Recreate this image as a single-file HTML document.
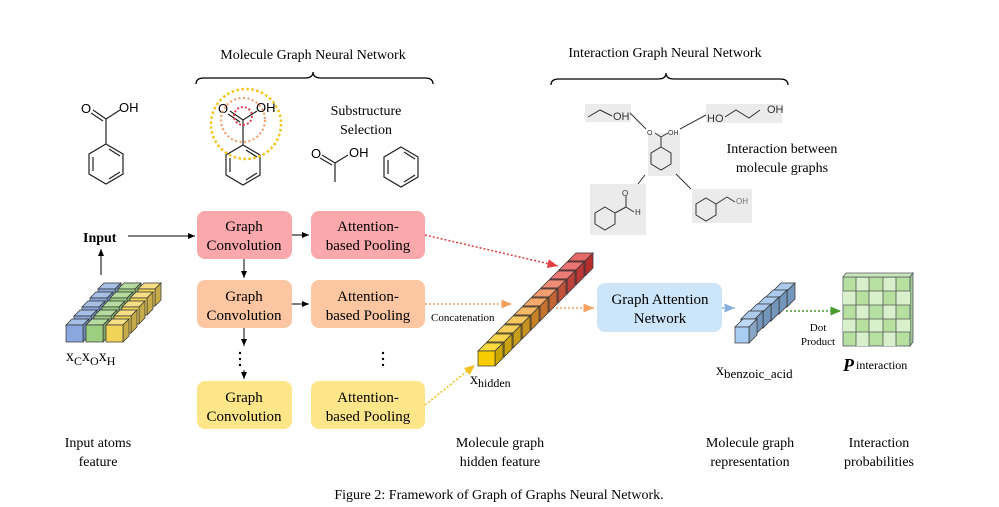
<!DOCTYPE html>
<html><head><meta charset="utf-8"><style>
body{margin:0;background:#fff}
svg{display:block;font-family:"Liberation Serif",serif}
.s{font-family:"Liberation Sans",sans-serif}
</style></head><body>
<svg width="999" height="507" viewBox="0 0 999 507" xmlns="http://www.w3.org/2000/svg">
<defs>
<marker id="a" markerWidth="8" markerHeight="8" refX="7" refY="4" orient="auto"><path d="M0,1 L7,4 L0,7z" fill="#000"/></marker>
<marker id="ar" markerWidth="8" markerHeight="8" refX="7" refY="4" orient="auto"><path d="M0,1 L7,4 L0,7z" fill="#e04040"/></marker>
<marker id="ao" markerWidth="8" markerHeight="8" refX="7" refY="4" orient="auto"><path d="M0,1 L7,4 L0,7z" fill="#f5a060"/></marker>
<marker id="ay" markerWidth="8" markerHeight="8" refX="7" refY="4" orient="auto"><path d="M0,1 L7,4 L0,7z" fill="#f0c020"/></marker>
<marker id="ab" markerWidth="8" markerHeight="8" refX="7" refY="4" orient="auto"><path d="M0,1 L7,4 L0,7z" fill="#8ab0e0"/></marker>
<marker id="ag" markerWidth="8" markerHeight="8" refX="7" refY="4" orient="auto"><path d="M0,1 L7,4 L0,7z" fill="#4a9a30"/></marker>
<g id="benz" fill="none" stroke="#222" stroke-width="1.2">
<polygon points="0,-20 17,-10 17,10 0,20 -17,10 -17,-10"/>
<line x1="-13" y1="-7" x2="-13" y2="7"/><line x1="3" y1="-15" x2="14" y2="-8"/><line x1="3" y1="15" x2="14" y2="8"/>
</g>
<g id="cube" stroke="#333" stroke-width="0.7">
<polygon points="0,0 8,-8 25,-8 17,0" fill="currentColor"/>
<polygon points="0,0 8,-8 25,-8 17,0" fill="#fff" opacity="0.25"/>
<polygon points="17,0 25,-8 25,7 17,15" fill="currentColor"/>
<polygon points="17,0 25,-8 25,7 17,15" fill="#000" opacity="0.18"/>
<rect x="0" y="0" width="17" height="15" fill="currentColor"/>
</g>
<g id="sc" stroke="#333" stroke-width="0.7">
<polygon points="0,0 8,-8 22,-8 14,0" fill="currentColor"/>
<polygon points="0,0 8,-8 22,-8 14,0" fill="#fff" opacity="0.25"/>
<polygon points="14,0 22,-8 22,8 14,16" fill="currentColor"/>
<polygon points="14,0 22,-8 22,8 14,16" fill="#000" opacity="0.18"/>
<rect x="0" y="0" width="14" height="16" fill="currentColor"/>
</g>
<g id="ic" stroke="#333" stroke-width="0.7">
<polygon points="0,0 6,-6 23,-6 17,0" fill="currentColor"/>
<polygon points="0,0 6,-6 23,-6 17,0" fill="#fff" opacity="0.25"/>
<polygon points="17,0 23,-6 23,11 17,17" fill="currentColor"/>
<polygon points="17,0 23,-6 23,11 17,17" fill="#000" opacity="0.18"/>
<rect x="0" y="0" width="17" height="17" fill="currentColor"/>
</g>
</defs>

<text x="313" y="59" font-size="14" text-anchor="middle">Molecule Graph Neural Network</text>
<path d="M196,84 Q196,78 204,78 L305,78 Q313,78 313,72 Q313,78 321,78 L425,78 Q433,78 433,84" fill="none" stroke="#000" stroke-width="1.3"/>
<text x="665" y="57" font-size="14" text-anchor="middle">Interaction Graph Neural Network</text>
<path d="M551,85 Q551,79 559,79 L658,79 Q666,79 666,73 Q666,79 674,79 L780,79 Q788,79 788,85" fill="none" stroke="#000" stroke-width="1.3"/>

<use href="#benz" x="106" y="164"/>
<g stroke="#222" stroke-width="1.2" fill="none"><line x1="106" y1="144" x2="106" y2="119"/><line x1="106" y1="119" x2="93" y2="110"/><line x1="103" y1="121" x2="91" y2="113"/><line x1="106" y1="119" x2="120" y2="110"/></g>
<text class="s" x="81" y="113" font-size="13">O</text><text class="s" x="119" y="112" font-size="13">OH</text>

<use href="#benz" x="243" y="165"/>
<g stroke="#222" stroke-width="1.2" fill="none"><line x1="243" y1="145" x2="243" y2="120"/><line x1="243" y1="120" x2="230" y2="111"/><line x1="240" y1="122" x2="228" y2="114"/><line x1="243" y1="120" x2="257" y2="111"/></g>
<text class="s" x="218" y="113" font-size="13">O</text><text class="s" x="256" y="112" font-size="13">OH</text>
<circle cx="243" cy="116" r="9" fill="none" stroke="#e04050" stroke-width="2" stroke-dasharray="2,2"/>
<circle cx="243" cy="120" r="22" fill="none" stroke="#f5a070" stroke-width="2.2" stroke-dasharray="2,2.5"/>
<circle cx="246" cy="124" r="35" fill="none" stroke="#f5c518" stroke-width="2.5" stroke-dasharray="2.5,2.5"/>
<text x="366" y="115" font-size="14" text-anchor="middle">Substructure</text>
<text x="366" y="134" font-size="14" text-anchor="middle">Selection</text>
<g stroke="#222" stroke-width="1.2" fill="none"><line x1="335" y1="182" x2="335" y2="163"/><line x1="335" y1="163" x2="322" y2="155"/><line x1="332" y1="165" x2="320" y2="158"/><line x1="335" y1="163" x2="348" y2="155"/></g>
<text class="s" x="311" y="158" font-size="13">O</text><text class="s" x="349" y="157" font-size="13">OH</text>
<use href="#benz" x="401" y="167"/>

<rect x="585" y="104" width="46" height="18" fill="#ebebeb"/>
<rect x="706" y="104" width="76" height="19" fill="#ebebeb"/>
<rect x="648" y="133" width="32" height="43" fill="#ebebeb"/>
<rect x="590" y="184" width="56" height="51" fill="#ebebeb"/>
<rect x="692" y="189" width="60" height="34" fill="#ebebeb"/>
<g stroke="#333" stroke-width="1" fill="none">
<polyline points="588,117 600,110 612,116"/>
<line x1="630" y1="113" x2="646" y2="129"/><line x1="680" y1="129" x2="706" y2="115"/>
<line x1="645" y1="175" x2="638" y2="184"/><line x1="676" y1="174" x2="691" y2="189"/>
<polyline points="725,117 736,110 749,118 760,110"/>
<line x1="661" y1="147" x2="661" y2="137"/><line x1="661" y1="137" x2="655" y2="133"/><line x1="661" y1="137" x2="668" y2="133"/>
<polygon points="661,147 671,153 671,164 661,170 651,164 651,153"/>
<polygon points="605,207 615,213 615,224 605,230 595,224 595,213"/>
<line x1="615" y1="213" x2="626" y2="207"/><line x1="626" y1="207" x2="626" y2="196"/><line x1="626" y1="207" x2="634" y2="212"/>
<polygon points="706,198 716,204 716,215 706,221 696,215 696,204"/>
<line x1="716" y1="204" x2="727" y2="197"/><line x1="727" y1="197" x2="735" y2="202"/>
</g>
<g class="s" fill="#333"><text x="613" y="120" font-size="11">OH</text><text x="707" y="122" font-size="11">HO</text><text x="767" y="113" font-size="11">OH</text>
<text x="647" y="135" font-size="7">O</text><text x="668" y="135" font-size="7">OH</text>
<text x="622" y="196" font-size="8">O</text><text x="635" y="215" font-size="8">H</text><text x="736" y="204" font-size="8" fill="#777">OH</text></g>
<text x="782" y="153" font-size="14" text-anchor="middle">Interaction between</text>
<text x="782" y="172" font-size="14" text-anchor="middle">molecule graphs</text>

<g font-size="15" text-anchor="middle">
<rect x="197" y="211" width="95" height="48" rx="8" fill="#fba8ad"/><text x="244" y="231">Graph</text><text x="244" y="250">Convolution</text>
<rect x="311" y="211" width="114" height="48" rx="8" fill="#fba8ad"/><text x="368" y="231">Attention-</text><text x="368" y="250">based Pooling</text>
<rect x="197" y="280" width="95" height="48" rx="8" fill="#fcc6a2"/><text x="244" y="301">Graph</text><text x="244" y="320">Convolution</text>
<rect x="311" y="280" width="114" height="48" rx="8" fill="#fcc6a2"/><text x="368" y="301">Attention-</text><text x="368" y="320">based Pooling</text>
<rect x="197" y="381" width="95" height="48" rx="8" fill="#fde68a"/><text x="244" y="402">Graph</text><text x="244" y="421">Convolution</text>
<rect x="311" y="381" width="114" height="48" rx="8" fill="#fde68a"/><text x="368" y="402">Attention-</text><text x="368" y="421">based Pooling</text>
<rect x="597" y="283" width="125" height="49" rx="8" fill="#cde5f8"/><text x="660" y="304">Graph Attention</text><text x="660" y="323">Network</text>
</g>
<g stroke="#000" stroke-width="1" fill="none">
<line x1="292" y1="235" x2="309" y2="235" marker-end="url(#a)"/>
<line x1="292" y1="304" x2="309" y2="304" marker-end="url(#a)"/>
<line x1="244" y1="259" x2="244" y2="278" marker-end="url(#a)"/>
<line x1="244" y1="328" x2="244" y2="346" marker-end="url(#a)"/>
<line x1="244" y1="370" x2="244" y2="379" marker-end="url(#a)"/>
<line x1="128" y1="236" x2="195" y2="236" marker-end="url(#a)"/>
<line x1="101" y1="275" x2="101" y2="249" marker-end="url(#a)"/>
</g>
<g fill="#000"><circle cx="240" cy="353" r="1.2"/><circle cx="240" cy="359" r="1.2"/><circle cx="240" cy="365" r="1.2"/>
<circle cx="383" cy="353" r="1.2"/><circle cx="383" cy="359" r="1.2"/><circle cx="383" cy="365" r="1.2"/></g>
<text x="83" y="242" font-size="14" font-weight="bold">Input</text>

<!-- input cubes: 3 rows -->
<g color="#8aa8dd"><use href="#ic" x="98" y="289"/><use href="#ic" x="90" y="298"/><use href="#ic" x="82" y="307"/><use href="#ic" x="74" y="316"/><use href="#ic" x="66" y="325"/></g>
<g color="#9ccf80"><use href="#ic" x="118" y="289"/><use href="#ic" x="110" y="298"/><use href="#ic" x="102" y="307"/><use href="#ic" x="94" y="316"/><use href="#ic" x="86" y="325"/></g>
<g color="#f2d35a"><use href="#ic" x="138" y="289"/><use href="#ic" x="130" y="298"/><use href="#ic" x="122" y="307"/><use href="#ic" x="114" y="316"/><use href="#ic" x="106" y="325"/></g>
<text x="66" y="361" font-size="16">x<tspan font-size="12" dy="4">C</tspan><tspan dy="-4">x</tspan><tspan font-size="12" dy="4">O</tspan><tspan dy="-4">x</tspan><tspan font-size="12" dy="4">H</tspan></text>

<!-- hidden vector cubes -->
<use href="#cube" x="568" y="261" color="#e03838"/>
<use href="#cube" x="559" y="270" color="#e44444"/>
<use href="#cube" x="550" y="279" color="#e85048"/>
<use href="#cube" x="541" y="288" color="#ec6448"/>
<use href="#cube" x="532" y="297" color="#f07c40"/>
<use href="#cube" x="523" y="306" color="#f28c38"/>
<use href="#cube" x="514" y="315" color="#f4a030"/>
<use href="#cube" x="505" y="324" color="#f4b428"/>
<use href="#cube" x="496" y="333" color="#f4c020"/>
<use href="#cube" x="487" y="342" color="#f5c810"/>
<use href="#cube" x="478" y="351" color="#f7cc00"/>
<text x="470" y="384" font-size="16">x<tspan font-size="12" dy="3">hidden</tspan></text>

<line x1="425" y1="235" x2="558" y2="266" stroke="#e04040" stroke-width="1.5" stroke-dasharray="2,2" marker-end="url(#ar)"/>
<line x1="425" y1="304" x2="512" y2="304" stroke="#f5a060" stroke-width="1.5" stroke-dasharray="2,2" marker-end="url(#ao)"/>
<line x1="556" y1="308" x2="594" y2="308" stroke="#f5a060" stroke-width="1.5" stroke-dasharray="2,2" marker-end="url(#ao)"/>
<line x1="425" y1="405" x2="475" y2="365" stroke="#f0c020" stroke-width="1.5" stroke-dasharray="2,2" marker-end="url(#ay)"/>
<line x1="722" y1="308" x2="735" y2="308" stroke="#8ab0e0" stroke-width="1.5" stroke-dasharray="2,2" marker-end="url(#ab)"/>
<line x1="786" y1="311" x2="841" y2="311" stroke="#4a9a30" stroke-width="1.5" stroke-dasharray="2,2" marker-end="url(#ag)"/>
<text x="431" y="321" font-size="11">Concatenation</text>

<!-- blue vector -->
<g color="#8fb8e6">
<use href="#sc" x="773" y="291"/><use href="#sc" x="765" y="298"/><use href="#sc" x="757" y="305"/><use href="#sc" x="749" y="312"/><use href="#sc" x="741" y="319"/><use href="#sc" x="735" y="327" color="#a9cdf2"/>
</g>
<text x="716" y="375" font-size="16">x<tspan font-size="13" dy="3">benzoic_acid</tspan></text>
<text x="818" y="331" font-size="11" text-anchor="middle">Dot</text>
<text x="818" y="345" font-size="11" text-anchor="middle">Product</text>

<g stroke="#556" stroke-width="0.8">
<rect x="843" y="277" width="67" height="69" fill="#b6e0a0"/>
<polygon points="843,277 846,273 913,273 910,277" fill="#c8e8b8"/>
<polygon points="910,277 913,273 913,342 910,346" fill="#9cc890"/>
</g>
<g fill="#d8f0cc"><rect x="856" y="278" width="13" height="13"/><rect x="883" y="278" width="13" height="13"/><rect x="843" y="291" width="13" height="14"/><rect x="869" y="291" width="14" height="14"/><rect x="896" y="291" width="14" height="14"/><rect x="856" y="305" width="13" height="14"/><rect x="883" y="305" width="13" height="14"/><rect x="843" y="319" width="13" height="13"/><rect x="869" y="319" width="14" height="13"/><rect x="896" y="319" width="14" height="13"/><rect x="856" y="332" width="13" height="14"/><rect x="883" y="332" width="13" height="14"/></g>
<g stroke="#555" stroke-width="0.8"><line x1="856" y1="277" x2="856" y2="346"/><line x1="869" y1="277" x2="869" y2="346"/><line x1="883" y1="277" x2="883" y2="346"/><line x1="896" y1="277" x2="896" y2="346"/>
<line x1="843" y1="291" x2="910" y2="291"/><line x1="843" y1="305" x2="910" y2="305"/><line x1="843" y1="319" x2="910" y2="319"/><line x1="843" y1="332" x2="910" y2="332"/></g>
<text x="843" y="371" font-size="18" font-weight="bold" font-style="italic">P<tspan font-size="12" font-weight="normal" font-style="normal" dx="2" dy="-2">interaction</tspan></text>

<g font-size="14" text-anchor="middle">
<text x="98" y="447">Input atoms</text><text x="98" y="466">feature</text>
<text x="500" y="447">Molecule graph</text><text x="500" y="466">hidden feature</text>
<text x="750" y="447">Molecule graph</text><text x="750" y="466">representation</text>
<text x="879" y="447">Interaction</text><text x="879" y="466">probabilities</text>
<text x="499" y="499">Figure 2: Framework of Graph of Graphs Neural Network.</text>
</g>
</svg>
</body></html>
